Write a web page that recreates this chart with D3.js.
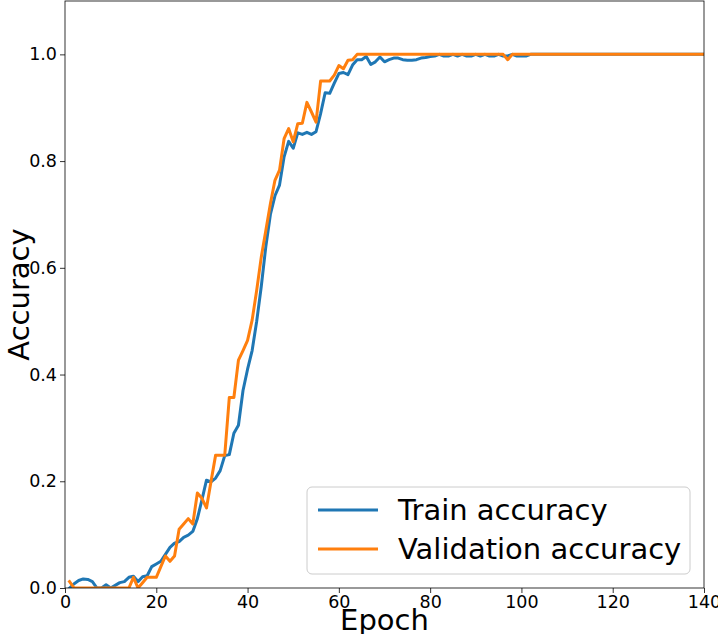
<!DOCTYPE html>
<html>
<head>
<meta charset="utf-8">
<script src="https://cdn.jsdelivr.net/npm/d3@7"></script>
<style>
  html, body { margin: 0; padding: 0; background: #fff; }
  svg { display: block; }
  text { font-family: "DejaVu Sans", sans-serif; }
</style>
</head>
<body>
<svg id="chart" width="718" height="634"></svg>
<script>
// ---- data (epochs 1..140) ----
const trainAcc = [
  0, 0.008, 0.014, 0.017, 0.016, 0.012, 0, 0, 0.006, 0,
  0.005, 0.01, 0.012, 0.02, 0.022, 0.012, 0.021, 0.023, 0.04, 0.045,
  0.05, 0.063, 0.076, 0.084, 0.087, 0.095, 0.099, 0.106, 0.13, 0.165,
  0.202, 0.199, 0.206, 0.22, 0.248, 0.25, 0.29, 0.305, 0.37, 0.41,
  0.445, 0.5, 0.565, 0.64, 0.7, 0.735, 0.755, 0.808, 0.837, 0.824,
  0.853, 0.85, 0.854, 0.85, 0.855, 0.889, 0.928, 0.927, 0.946, 0.964,
  0.966, 0.962, 0.98, 0.99, 0.99, 0.996, 0.981, 0.986, 0.995, 0.986,
  0.99, 0.993, 0.993, 0.99, 0.989, 0.989, 0.99, 0.993, 0.994, 0.996,
  0.997, 1, 0.997, 0.997, 1, 0.997, 1, 0.997, 0.997, 1,
  0.997, 1, 0.997, 0.997, 1, 0.997, 0.997, 1, 0.997, 0.997,
  0.997, 1, 1, 1, 1, 1, 1, 1, 1, 1,
  1, 1, 1, 1, 1, 1, 1, 1, 1, 1,
  1, 1, 1, 1, 1, 1, 1, 1, 1, 1,
  1, 1, 1, 1, 1, 1, 1, 1, 1, 1
];
const valAcc = [
  0.012, 0, 0, 0, 0, 0, 0, 0, 0, 0,
  0, 0, 0, 0, 0.02, 0, 0.01, 0.02, 0.02, 0.02,
  0.04, 0.06, 0.05, 0.06, 0.11, 0.12, 0.13, 0.12, 0.178, 0.168,
  0.15, 0.2, 0.249, 0.249, 0.249, 0.357, 0.357, 0.427, 0.445, 0.464,
  0.502, 0.558, 0.62, 0.67, 0.72, 0.764, 0.783, 0.842, 0.861, 0.836,
  0.87, 0.871, 0.91, 0.892, 0.873, 0.95, 0.95, 0.95, 0.961, 0.979,
  0.973, 0.989, 0.99, 1, 1, 1, 1, 1, 1, 1,
  1, 1, 1, 1, 1, 1, 1, 1, 1, 1,
  1, 1, 1, 1, 1, 1, 1, 1, 1, 1,
  1, 1, 1, 1, 1, 1, 0.99, 1, 1, 1,
  1, 1, 1, 1, 1, 1, 1, 1, 1, 1,
  1, 1, 1, 1, 1, 1, 1, 1, 1, 1,
  1, 1, 1, 1, 1, 1, 1, 1, 1, 1,
  1, 1, 1, 1, 1, 1, 1, 1, 1, 1
];
const epochs = trainAcc.map((_, i) => i + 1);
const xTicks = [0, 20, 40, 60, 80, 100, 120, 140];
const yTicks = [0.0, 0.2, 0.4, 0.6, 0.8, 1.0];
const seriesNames = ["Train accuracy", "Validation accuracy"];
const seriesColors = ["#1f77b4", "#ff7f0e"];

// ---- layout ----
const svg = d3.select("#chart");
const mLeft = 65, mRight = 704, mTop = 1, mBottom = 588;

const x = d3.scaleLinear().domain([0, 140]).range([mLeft, mRight]);
const y = d3.scaleLinear().domain([0, 1.1]).range([mBottom, mTop]);

svg.append("defs").append("clipPath").attr("id", "clip")
  .append("rect").attr("x", mLeft).attr("y", mTop)
  .attr("width", mRight - mLeft).attr("height", mBottom - mTop);

const g = svg.append("g");
const line = d3.line().x(d => x(d[0])).y(d => y(d[1]));
const series = [trainAcc, valAcc];
series.forEach((vals, si) => {
  g.append("path")
    .datum(epochs.map((e, i) => [e, vals[i]]))
    .attr("clip-path", "url(#clip)")
    .attr("fill", "none")
    .attr("stroke", seriesColors[si])
    .attr("stroke-width", 3)
    .attr("stroke-linejoin", "round")
    .attr("stroke-linecap", "square")
    .attr("d", line);
});

// axes
const xAxis = d3.axisBottom(x).tickValues(xTicks).tickFormat(d3.format("d")).tickSize(5).tickPadding(3);
const yAxis = d3.axisLeft(y).tickValues(yTicks).tickFormat(d3.format(".1f")).tickSize(5).tickPadding(3);

const gx = svg.append("g").attr("transform", `translate(0,${mBottom})`).call(xAxis);
const gy = svg.append("g").attr("transform", `translate(${mLeft},0)`).call(yAxis);
[gx, gy].forEach(a => {
  a.select(".domain").remove();
  a.selectAll(".tick line").attr("stroke", "#000").attr("stroke-width", 0.8);
  a.selectAll(".tick text").attr("font-size", 17.5).attr("fill", "#000")
    .attr("font-family", "DejaVu Sans, sans-serif");
});

// spines
svg.append("rect")
  .attr("x", mLeft).attr("y", mTop).attr("width", mRight - mLeft).attr("height", mBottom - mTop)
  .attr("fill", "none").attr("stroke", "#000").attr("stroke-width", 0.8);

// axis labels
svg.append("text").attr("x", (mLeft + mRight) / 2).attr("y", 630)
  .attr("text-anchor", "middle").attr("font-size", 29).text("Epoch");
svg.append("text").attr("transform", `translate(29,${(mTop + mBottom) / 2}) rotate(-90)`)
  .attr("text-anchor", "middle").attr("font-size", 29).text("Accuracy");

// legend
const lg = svg.append("g");
lg.append("rect").attr("x", 307).attr("y", 487).attr("width", 383).attr("height", 87)
  .attr("rx", 5).attr("fill", "#fff").attr("fill-opacity", 0.8)
  .attr("stroke", "#cccccc").attr("stroke-width", 1);
seriesNames.forEach((name, i) => {
  const yy = 510 + i * 39;
  lg.append("line").attr("x1", 318).attr("x2", 378).attr("y1", yy).attr("y2", yy)
    .attr("stroke", seriesColors[i]).attr("stroke-width", 3);
  lg.append("text").attr("x", 398).attr("y", yy).attr("dy", "0.36em")
    .attr("font-size", 29).text(name);
});
</script>
</body>
</html>
